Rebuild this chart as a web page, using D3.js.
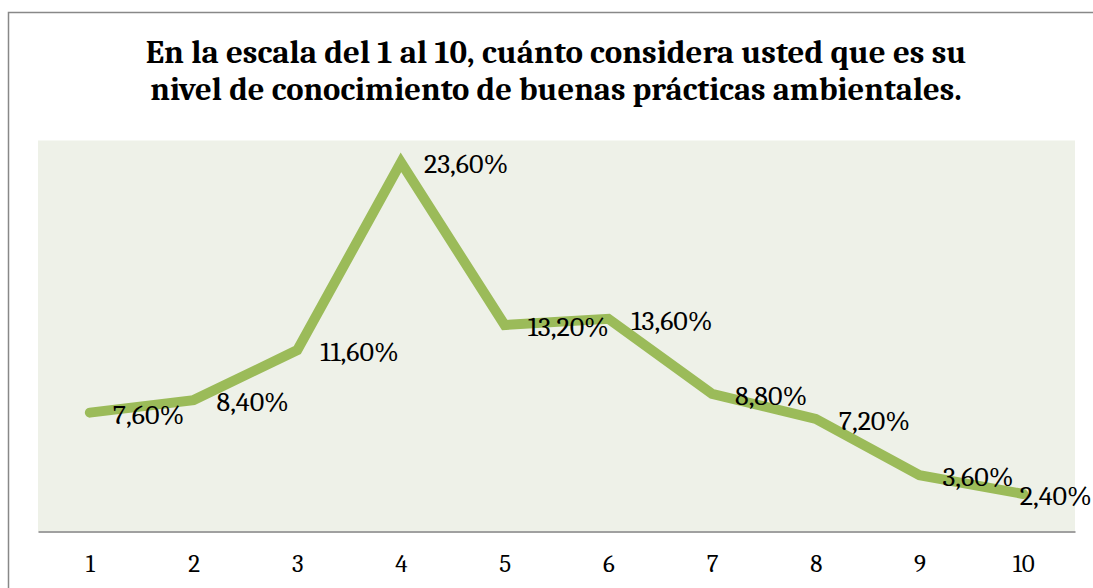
<!DOCTYPE html>
<html><head><meta charset="utf-8">
<script src="https://cdn.jsdelivr.net/npm/d3@7"></script>
<style>html,body{margin:0;padding:0;background:#fff;overflow:hidden}</style>
</head><body>
<svg id="c" width="1093" height="588"></svg>
<script>
const categories = ["1","2","3","4","5","6","7","8","9","10"];
const values = [7.6, 8.4, 11.6, 23.6, 13.2, 13.6, 8.8, 7.2, 3.6, 2.4];
const valueLabels = ["7,60%","8,40%","11,60%","23,60%","13,20%","13,60%","8,80%","7,20%","3,60%","2,40%"];
const titleLines = ["En la escala del 1 al 10, cuánto considera usted que es su","nivel de conocimiento de buenas prácticas ambientales."];

const svg = d3.select("#c");
const serif = "Cambria, Caladea, 'Liberation Serif', 'DejaVu Serif', serif";

// outer border (extends past right/bottom edges)
svg.append("rect").attr("x",8.5).attr("y",12.5).attr("width",1200).attr("height",700)
  .attr("fill","#fff").attr("stroke","#888").attr("stroke-width",1.5);

const plot = {left:38, right:1075, top:140.5, bottom:531.5};
svg.append("rect").attr("x",plot.left).attr("y",plot.top)
  .attr("width",plot.right-plot.left).attr("height",plot.bottom-plot.top).attr("fill","#EEF1E8");

const x = d3.scalePoint().domain(categories).range([plot.left, plot.right]).padding(0.5);
const y = d3.scaleLinear().domain([0,25]).range([plot.bottom, plot.top]);

// x axis
const ax = svg.append("g").attr("transform",`translate(0,${plot.bottom})`)
  .call(d3.axisBottom(x).tickSize(0).tickPadding(0));
ax.select(".domain").attr("stroke","#A0A0A0").attr("stroke-width",2);
ax.selectAll("text").attr("font-family",serif).attr("font-size",25).attr("fill","#000")
  .attr("dy",null).attr("y",40);

// line
const line = d3.line().x((d,i)=>x(categories[i])).y(d=>y(d));
svg.append("path").datum(values).attr("d",line).attr("fill","none")
  .attr("stroke","#9BBB59").attr("stroke-width",10).attr("stroke-linejoin","miter").attr("stroke-linecap","round");

// labels
svg.append("g").selectAll("text").data(values).join("text")
  .attr("x",(d,i)=>x(categories[i])+23).attr("y",d=>y(d)+11)
  .attr("font-family",serif).attr("font-size",28).attr("fill","#000")
  .text((d,i)=>valueLabels[i])
  .each(function(){
    const w = this.getComputedTextLength();
    const xx = +this.getAttribute("x");
    if (xx + w > 1092) this.setAttribute("x", 1092 - w);
  });

// title
const t = svg.append("g");
const targetW = [821, 812];
titleLines.forEach((s,i)=>{
  const el = t.append("text").attr("x",556).attr("y",63+i*37).attr("text-anchor","middle")
    .attr("font-family",serif).attr("font-weight","bold").attr("font-size",31).attr("fill","#000").text(s);
  const w = el.node().getComputedTextLength();
  el.attr("font-size", 31*targetW[i]/w);
});
</script>
</body></html>
